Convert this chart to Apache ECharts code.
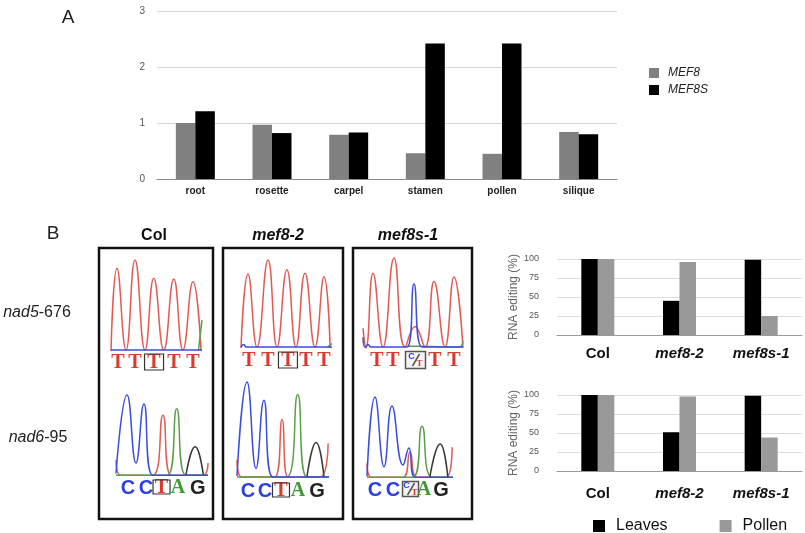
<!DOCTYPE html>
<html><head><meta charset="utf-8">
<script src="https://cdn.jsdelivr.net/npm/echarts@6/dist/echarts.min.js"></script>
<style>html,body{margin:0;padding:0;background:#fff}#c{width:805px;height:533px}</style>
</head><body><div id="c"></div><script>
// ---------- Panel A data ----------
const tissues = ['root', 'rosette', 'carpel', 'stamen', 'pollen', 'silique'];
const mef8Expr = [1.0, 0.97, 0.79, 0.46, 0.45, 0.84];
const mef8sExpr = [1.21, 0.82, 0.83, 2.42, 2.42, 0.80];
const exprTicks = [0, 1, 2, 3];

// ---------- Panel B bar data ----------
const genotypes = ['Col', 'mef8-2', 'mef8s-1'];
const nad5Leaves = [100, 45, 99];
const nad5Pollen = [100, 96, 25];
const nad6Leaves = [100, 51, 99];
const nad6Pollen = [100, 98, 44];
const editTicks = [0, 25, 50, 75, 100];

// ---------- Chromatogram traces ([scan, signal]) ----------
const nad5ColRed = [[0,0],[6.6,91],[16.5,1],[26.4,100],[37.4,1],[47,80],[58,1],[69,79],[79,1],[90,76],[99,0]];
const nad5ColBlue = [[0,1],[100,1]];
const nad5ColGreen = [[96,0],[100,34]];
const nad5Mef82Red = [[0,0],[7.7,84],[17.6,1],[29.7,100],[39.6,1],[50.5,89],[60.4,1],[70.3,85],[81.3,1],[91.2,81],[98,0]];
const nad5Mef82Blue = [[0,1],[3,4],[6,1],[100,1]];
const nad5Mef82Green = [[95,1],[100,5]];
const nad5Mef8s1Red = [[0,22],[3,0],[10,83],[20,1],[31,100],[42,1],[52,24],[62,1],[71,74],[82,1],[91,79],[100,0]];
const nad5Mef8s1Blue = [[0,12],[2,1],[5,4],[8,1],[44,1],[51,71],[59,1],[100,1]];
const nad5Mef8s1Green = [[44,2],[58,2],[96,1],[100,8]];

const nad6ColBlue = [[0,3],[12,100],[21.7,16],[30.4,89],[40,1],[100,1]];
const nad6ColRed = [[0,20],[5,1],[40,1],[51,75],[60,1],[95,1],[100,16]];
const nad6ColGreen = [[0,1],[56,1],[66,83],[76,1],[100,1]];
const nad6ColBlack = [[76,1],[86,36],[95,1]];
const nad6Mef82Blue = [[0,2],[10.9,100],[20.7,10],[29.3,81],[39,1],[100,1]];
const nad6Mef82Red = [[0,19],[5,1],[41,1],[49,61],[55.4,1],[90,1],[99,36]];
const nad6Mef82Green = [[0,1],[54,1],[66,87],[76,1],[100,1]];
const nad6Mef82Black = [[76,1],[86,37],[94.6,1]];
const nad6Mef8s1Blue = [[0,2],[9.3,100],[19.8,14],[29,89],[41.9,16],[48.8,37],[55.8,1],[100,1]];
const nad6Mef8s1Red = [[0,18],[5,1],[41.9,1],[50,32],[58,1],[92,1],[99,38]];
const nad6Mef8s1Green = [[0,1],[53.5,1],[64,64],[75.6,1],[100,1]];
const nad6Mef8s1Black = [[73,1],[85,42],[94,1]];

// ---------- Base calls ----------
const nad5CallsWT = ['T', 'T', 'T', 'T', 'T'];
const nad5CallsMix = ['T', 'T', 'C/T', 'T', 'T'];
const nad6CallsWT = ['C', 'C', 'T', 'A', 'G'];
const nad6CallsMix = ['C', 'C', 'C/T', 'A', 'G'];
const nad5ColPos = [7.7, 26.4, 47.3, 69.2, 90.1];
const nad5Mef82Pos = [8.8, 29.7, 51.6, 71.4, 91.2];
const nad5Mef8s1Pos = [14, 30, 52.5, 72, 91];
const nad6ColPos = [13, 32.6, 49.5, 67.4, 89];
const nad6Mef82Pos = [12, 30.4, 47.8, 66.3, 87];
const nad6Mef8s1Pos = [9.3, 30.2, 50.6, 66.3, 86];

// ---------- styling ----------
const TRACE = {red: '#e25a52', blue: '#3a4ddf', green: '#5a9f4a', black: '#3a3a3a'};
const BASE = {T: '#d83b2e', C: '#2c3fe0', A: '#3f9a33', G: '#222'};

const chart = echarts.init(document.getElementById('c'));

const chromas = [
  {grid: {left: 111, top: 260, width: 91, height: 91}, traces: [['red', nad5ColRed], ['green', nad5ColGreen], ['blue', nad5ColBlue]], calls: nad5CallsWT, pos: nad5ColPos, off: 11, big: true},
  {grid: {left: 241, top: 260, width: 91, height: 88}, traces: [['red', nad5Mef82Red], ['green', nad5Mef82Green], ['blue', nad5Mef82Blue]], calls: nad5CallsWT, pos: nad5Mef82Pos, off: 12, big: true},
  {grid: {left: 363, top: 258, width: 100, height: 90}, traces: [['red', nad5Mef8s1Red], ['green', nad5Mef8s1Green], ['blue', nad5Mef8s1Blue]], calls: nad5CallsMix, pos: nad5Mef8s1Pos, off: 12, big: true},
  {grid: {left: 116, top: 395, width: 92, height: 81}, traces: [['red', nad6ColRed], ['green', nad6ColGreen], ['black', nad6ColBlack], ['blue', nad6ColBlue]], calls: nad6CallsWT, pos: nad6ColPos, off: 11, big: false},
  {grid: {left: 237, top: 382, width: 92, height: 96}, traces: [['red', nad6Mef82Red], ['green', nad6Mef82Green], ['black', nad6Mef82Black], ['blue', nad6Mef82Blue]], calls: nad6CallsWT, pos: nad6Mef82Pos, off: 12, big: false},
  {grid: {left: 367, top: 397, width: 86, height: 81}, traces: [['red', nad6Mef8s1Red], ['green', nad6Mef8s1Green], ['black', nad6Mef8s1Black], ['blue', nad6Mef8s1Blue]], calls: nad6CallsMix, pos: nad6Mef8s1Pos, off: 11, big: false}
];

const grids = [
  {left: 157, top: 11, width: 460, height: 168},
  {left: 557, top: 259, width: 245, height: 76},
  {left: 557, top: 395, width: 245, height: 76}
];
const xAxes = [
  {gridIndex: 0, type: 'category', data: tissues, axisTick: {show: false},
   axisLine: {lineStyle: {color: '#8a8a8a'}},
   axisLabel: {interval: 0, fontSize: 10, fontWeight: 'bold', color: '#222', margin: 7, fontFamily: 'Liberation Sans'}},
];
const yAxes = [
  {gridIndex: 0, type: 'value', min: exprTicks[0], max: exprTicks[exprTicks.length - 1], interval: 1,
   axisLabel: {fontSize: 10, color: '#555', margin: 12, fontFamily: 'Liberation Sans'},
   splitLine: {lineStyle: {color: '#d4d4d4'}}}
];
for (let g = 1; g <= 2; g++) {
  xAxes.push({gridIndex: g, type: 'category', data: genotypes, axisTick: {show: false},
    axisLine: {lineStyle: {color: '#999'}},
    axisLabel: {interval: 0, hideOverlap: false, margin: g === 1 ? 11 : 15, fontSize: 15, color: '#111', fontFamily: 'Liberation Sans',
      formatter: v => v === 'Col' ? '{b|Col}' : '{bi|' + v + '}',
      rich: {b: {fontSize: 15, fontWeight: 'bold', color: '#111', fontFamily: 'Liberation Sans'},
             bi: {fontSize: 15, fontWeight: 'bold', fontStyle: 'italic', color: '#111', fontFamily: 'Liberation Sans'}}}});
  yAxes.push({gridIndex: g, type: 'value', min: editTicks[0], max: editTicks[editTicks.length - 1], interval: 25,
    name: 'RNA editing (%)', nameLocation: 'middle', nameGap: 34,
    nameTextStyle: {fontSize: 12, color: '#666', fontFamily: 'Liberation Sans'},
    axisLabel: {fontSize: 9, color: '#555', margin: 18, fontFamily: 'Liberation Sans'},
    splitLine: {lineStyle: {color: '#dcdcdc'}}});
}

const series = [
  {name: 'MEF8', type: 'bar', xAxisIndex: 0, yAxisIndex: 0, data: mef8Expr, barWidth: 19.5, barGap: '0%', itemStyle: {color: '#808080'}},
  {name: 'MEF8S', type: 'bar', xAxisIndex: 0, yAxisIndex: 0, data: mef8sExpr, barWidth: 19.5, barGap: '0%', itemStyle: {color: '#000'}},
  {name: 'Leaves', type: 'bar', xAxisIndex: 1, yAxisIndex: 1, data: nad5Leaves, barWidth: 16.5, barGap: '0%', itemStyle: {color: '#000'}},
  {name: 'Pollen', type: 'bar', xAxisIndex: 1, yAxisIndex: 1, data: nad5Pollen, barWidth: 16.5, barGap: '0%', itemStyle: {color: '#999'}},
  {name: 'Leaves', type: 'bar', xAxisIndex: 2, yAxisIndex: 2, data: nad6Leaves, barWidth: 16.5, barGap: '0%', itemStyle: {color: '#000'}},
  {name: 'Pollen', type: 'bar', xAxisIndex: 2, yAxisIndex: 2, data: nad6Pollen, barWidth: 16.5, barGap: '0%', itemStyle: {color: '#999'}}
];

chromas.forEach((c, i) => {
  const gi = grids.length;
  grids.push(c.grid);
  xAxes.push({gridIndex: gi, type: 'value', min: 0, max: 100, show: false});
  yAxes.push({gridIndex: gi, type: 'value', min: 0, max: 100, show: false});
  c.gridIndex = gi;
  c.traces.forEach(([col, data]) => {
    series.push({type: 'line', xAxisIndex: gi, yAxisIndex: gi, data: data, smooth: 0.5,
      symbol: 'none', silent: true, clip: false, lineStyle: {color: TRACE[col], width: 1.5}});
  });
});

const staticGraphics = [
  {type: 'text', x: 68, y: 18, style: {text: 'A', fontSize: 19, fill: '#222', fontFamily: 'Liberation Sans', align: 'center', verticalAlign: 'middle'}},
  {type: 'text', x: 53, y: 234, style: {text: 'B', fontSize: 19, fill: '#222', fontFamily: 'Liberation Sans', align: 'center', verticalAlign: 'middle'}},
  {type: 'text', x: 154, y: 236, style: {text: 'Col', fontSize: 16, fontWeight: 'bold', fill: '#111', fontFamily: 'Liberation Sans', align: 'center', verticalAlign: 'middle'}},
  {type: 'text', x: 278, y: 236, style: {text: 'mef8-2', fontSize: 16, fontWeight: 'bold', fontStyle: 'italic', fill: '#111', fontFamily: 'Liberation Sans', align: 'center', verticalAlign: 'middle'}},
  {type: 'text', x: 408, y: 236, style: {text: 'mef8s-1', fontSize: 16, fontWeight: 'bold', fontStyle: 'italic', fill: '#111', fontFamily: 'Liberation Sans', align: 'center', verticalAlign: 'middle'}},
  {type: 'text', x: 37, y: 313, style: {text: '{i|nad5}-676', fontSize: 16, fill: '#222', fontFamily: 'Liberation Sans', align: 'center', verticalAlign: 'middle',
    rich: {i: {fontStyle: 'italic', fontSize: 16, fontFamily: 'Liberation Sans', fill: '#222'}}}},
  {type: 'text', x: 38, y: 438, style: {text: '{i|nad6}-95', fontSize: 16, fill: '#222', fontFamily: 'Liberation Sans', align: 'center', verticalAlign: 'middle',
    rich: {i: {fontStyle: 'italic', fontSize: 16, fontFamily: 'Liberation Sans', fill: '#222'}}}},
  {type: 'rect', shape: {x: 99, y: 248, width: 114, height: 271}, style: {fill: 'none', stroke: '#111', lineWidth: 2.5}},
  {type: 'rect', shape: {x: 223, y: 248, width: 120, height: 271}, style: {fill: 'none', stroke: '#111', lineWidth: 2.5}},
  {type: 'rect', shape: {x: 353, y: 248, width: 119, height: 271}, style: {fill: 'none', stroke: '#111', lineWidth: 2.5}}
];

chart.setOption({
  animation: false,
  backgroundColor: '#fff',
  grid: grids,
  xAxis: xAxes,
  yAxis: yAxes,
  legend: [
    {data: ['MEF8', 'MEF8S'], orient: 'vertical', left: 649, top: 67, padding: 0, itemWidth: 10, itemHeight: 10, itemGap: 5, icon: 'rect', selectedMode: false,
     textStyle: {fontSize: 12, fontStyle: 'italic', color: '#222', fontFamily: 'Liberation Sans', padding: [0, 0, 0, 4]}},
    {data: ['Leaves', 'Pollen'], orient: 'horizontal', left: 593, top: 518, padding: 0, itemWidth: 12, itemHeight: 12, itemGap: 52, icon: 'rect', selectedMode: false,
     textStyle: {fontSize: 16, color: '#111', fontFamily: 'Liberation Sans', padding: [0, 0, 0, 6]}}
  ],
  series: series,
  graphic: staticGraphics
});

// Base-call letters positioned through each chromatogram's own axes
const letterGraphics = [];
chromas.forEach(c => {
  c.calls.forEach((b, k) => {
    const p = chart.convertToPixel({gridIndex: c.gridIndex}, [c.pos[k], 0]);
    const cx = p[0], cy = p[1] + c.off;
    const fs = 20;
    if (b === 'C/T') {
      const w = c.big ? 20 : 16, h = c.big ? 17 : 15;
      letterGraphics.push({type: 'rect', shape: {x: cx - w / 2, y: cy - h / 2, width: w, height: h}, style: {fill: '#f4f4f4', stroke: '#555', lineWidth: 1.5}});
      letterGraphics.push({type: 'line', shape: {x1: cx + 4, y1: cy - 6, x2: cx - 3, y2: cy + 6}, style: {stroke: '#555', lineWidth: 1.5}});
      letterGraphics.push({type: 'text', x: cx - 4, y: cy - 3, style: {text: 'C', fontSize: 9, fontWeight: 'bold', fill: BASE.C, fontFamily: 'Liberation Sans', align: 'center', verticalAlign: 'middle'}});
      letterGraphics.push({type: 'text', x: cx + 4, y: cy + 4, style: {text: 'T', fontSize: 9, fontWeight: 'bold', fill: BASE.T, fontFamily: 'Liberation Serif', align: 'center', verticalAlign: 'middle'}});
    } else {
      const serif = (b === 'T' || b === 'A');
      letterGraphics.push({type: 'text', x: cx, y: cy + 1, style: {text: b, fontSize: fs, fontWeight: 'bold', fill: BASE[b],
        fontFamily: serif ? 'Liberation Serif' : 'Liberation Sans', align: 'center', verticalAlign: 'middle'}});
      if (k === 2) {
        const w = c.big ? 19 : 17, h = c.big ? 16 : 14;
        letterGraphics.push({type: 'rect', shape: {x: cx - w / 2, y: cy - h / 2, width: w, height: h}, style: {fill: 'none', stroke: '#333', lineWidth: 1.2}});
      }
    }
  });
});
chart.setOption({graphic: staticGraphics.concat(letterGraphics)});
</script></body></html>
